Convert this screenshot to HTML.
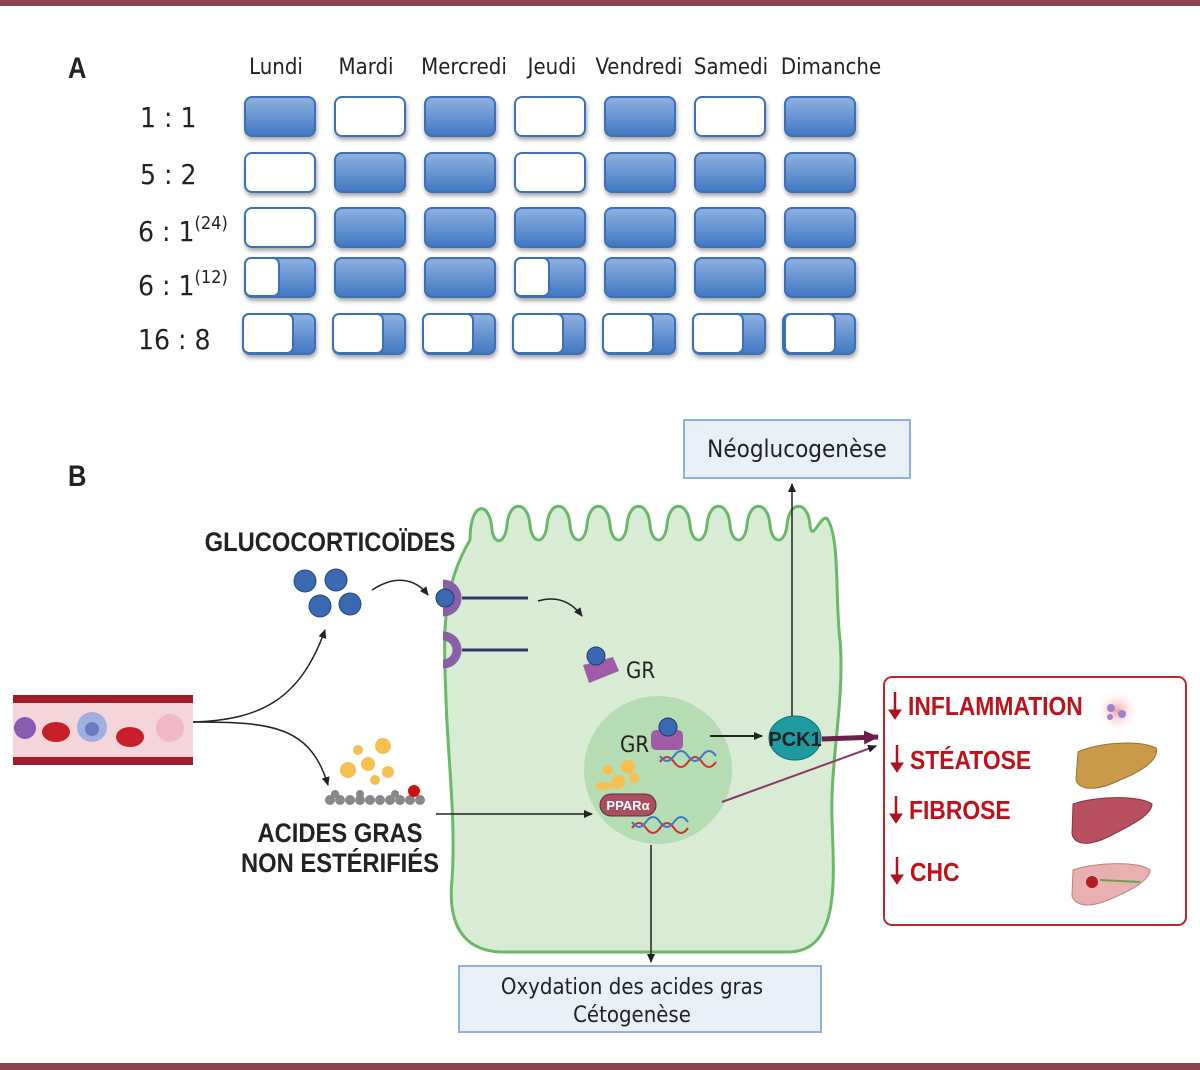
<!DOCTYPE html>
<html><head><meta charset="utf-8"><style>
html,body{margin:0;padding:0;background:#fff}
svg{display:block;font-family:"Liberation Sans",sans-serif}
.n{font-family:"DejaVu Sans Condensed","DejaVu Sans",sans-serif;fill:#222}
.b{font-family:"Liberation Sans",sans-serif;font-weight:bold;fill:#222}
.r{font-family:"Liberation Sans",sans-serif;font-weight:bold;fill:#c0101a}
</style></head><body>
<svg width="1200" height="1070" viewBox="0 0 1200 1070" xmlns="http://www.w3.org/2000/svg">
<defs>
<linearGradient id="bl" x1="0" y1="0" x2="0" y2="1"><stop offset="0" stop-color="#8fb1df"/><stop offset="1" stop-color="#3f77c2"/></linearGradient>
<filter id="sh" x="-20%" y="-20%" width="140%" height="160%"><feDropShadow dx="1" dy="3" stdDeviation="2" flood-color="#000" flood-opacity="0.35"/></filter>
<marker id="ar" markerWidth="10" markerHeight="10" refX="8" refY="5" orient="auto" markerUnits="userSpaceOnUse"><path d="M0,1 L9,5 L0,9 Z" fill="#222"/></marker>
<marker id="arp" markerWidth="16" markerHeight="16" refX="14" refY="8" orient="auto" markerUnits="userSpaceOnUse"><path d="M0,1 L15,8 L0,15 Z" fill="#6a1f4a"/></marker>
<radialGradient id="glow"><stop offset="0" stop-color="#f5a0a0"/><stop offset="1" stop-color="#fff" stop-opacity="0"/></radialGradient>
</defs>
<rect x="0" y="0" width="1200" height="6" fill="#8a4650"/>
<rect x="0" y="1063" width="1200" height="7" fill="#8a4650"/>

<text x="68" y="78" class="b" font-size="30" transform="translate(68 0) scale(0.85 1) translate(-68 0)">A</text>
<text class="n" font-size="22" x="276" y="74" text-anchor="middle">Lundi</text>
<text class="n" font-size="22" x="366" y="74" text-anchor="middle">Mardi</text>
<text class="n" font-size="22" x="464" y="74" text-anchor="middle">Mercredi</text>
<text class="n" font-size="22" x="552" y="74" text-anchor="middle">Jeudi</text>
<text class="n" font-size="22" x="639" y="74" text-anchor="middle">Vendredi</text>
<text class="n" font-size="22" x="731" y="74" text-anchor="middle">Samedi</text>
<text class="n" font-size="22" x="831" y="74" text-anchor="middle">Dimanche</text>
<text class="n" font-size="28" x="140" y="127">1 : 1</text>
<text class="n" font-size="28" x="140" y="184">5 : 2</text>
<text class="n" font-size="28" x="138" y="241">6 : 1<tspan font-size="18" dy="-12">(24)</tspan></text>
<text class="n" font-size="28" x="138" y="295">6 : 1<tspan font-size="18" dy="-12">(12)</tspan></text>
<text class="n" font-size="28" x="138" y="349">16 : 8</text>
<g filter="url(#sh)" stroke="#3d70b8" stroke-width="2">
<rect x="245" y="97" width="70" height="39" rx="7" fill="url(#bl)"/>
<rect x="335" y="97" width="70" height="39" rx="7" fill="#fff"/>
<rect x="425" y="97" width="70" height="39" rx="7" fill="url(#bl)"/>
<rect x="515" y="97" width="70" height="39" rx="7" fill="#fff"/>
<rect x="605" y="97" width="70" height="39" rx="7" fill="url(#bl)"/>
<rect x="695" y="97" width="70" height="39" rx="7" fill="#fff"/>
<rect x="785" y="97" width="70" height="39" rx="7" fill="url(#bl)"/>
<rect x="245" y="153" width="70" height="39" rx="7" fill="#fff"/>
<rect x="335" y="153" width="70" height="39" rx="7" fill="url(#bl)"/>
<rect x="425" y="153" width="70" height="39" rx="7" fill="url(#bl)"/>
<rect x="515" y="153" width="70" height="39" rx="7" fill="#fff"/>
<rect x="605" y="153" width="70" height="39" rx="7" fill="url(#bl)"/>
<rect x="695" y="153" width="70" height="39" rx="7" fill="url(#bl)"/>
<rect x="785" y="153" width="70" height="39" rx="7" fill="url(#bl)"/>
<rect x="245" y="208" width="70" height="39" rx="7" fill="#fff"/>
<rect x="335" y="208" width="70" height="39" rx="7" fill="url(#bl)"/>
<rect x="425" y="208" width="70" height="39" rx="7" fill="url(#bl)"/>
<rect x="515" y="208" width="70" height="39" rx="7" fill="url(#bl)"/>
<rect x="605" y="208" width="70" height="39" rx="7" fill="url(#bl)"/>
<rect x="695" y="208" width="70" height="39" rx="7" fill="url(#bl)"/>
<rect x="785" y="208" width="70" height="39" rx="7" fill="url(#bl)"/>
<rect x="245" y="258" width="70" height="39" rx="7" fill="url(#bl)"/>
<rect x="335" y="258" width="70" height="39" rx="7" fill="url(#bl)"/>
<rect x="425" y="258" width="70" height="39" rx="7" fill="url(#bl)"/>
<rect x="515" y="258" width="70" height="39" rx="7" fill="url(#bl)"/>
<rect x="605" y="258" width="70" height="39" rx="7" fill="url(#bl)"/>
<rect x="695" y="258" width="70" height="39" rx="7" fill="url(#bl)"/>
<rect x="785" y="258" width="70" height="39" rx="7" fill="url(#bl)"/>
<rect x="243" y="314" width="72" height="40" rx="7" fill="url(#bl)"/>
<rect x="333" y="314" width="72" height="40" rx="7" fill="url(#bl)"/>
<rect x="423" y="314" width="72" height="40" rx="7" fill="url(#bl)"/>
<rect x="513" y="314" width="72" height="40" rx="7" fill="url(#bl)"/>
<rect x="603" y="314" width="72" height="40" rx="7" fill="url(#bl)"/>
<rect x="693" y="314" width="72" height="40" rx="7" fill="url(#bl)"/>
<rect x="783" y="314" width="72" height="40" rx="7" fill="url(#bl)"/>
</g>
<g stroke="#3d70b8" stroke-width="2" fill="#fff">
<rect x="245" y="258" width="34" height="38" rx="6"/>
<rect x="515" y="258" width="34" height="38" rx="6"/>
<rect x="243" y="314" width="50" height="39" rx="6"/>
<rect x="333" y="314" width="50" height="39" rx="6"/>
<rect x="423" y="314" width="50" height="39" rx="6"/>
<rect x="513" y="314" width="50" height="39" rx="6"/>
<rect x="603" y="314" width="50" height="39" rx="6"/>
<rect x="693" y="314" width="50" height="39" rx="6"/>
<rect x="785" y="314" width="50" height="39" rx="6"/>
</g>

<text x="68" y="486" class="b" font-size="30" transform="translate(68 0) scale(0.85 1) translate(-68 0)">B</text>

<path d="M470,540 C470,500 490,500 492,530 C494,545 505,545 507,525 C509,500 528,500 530,525 C532,545 545,545 547,525 C549,500 568,500 570,525 C572,545 585,545 587,525 C589,500 608,500 610,525 C612,545 625,545 627,525 C629,500 648,500 650,525 C652,545 665,545 667,525 C669,500 688,500 690,525 C692,545 705,545 707,525 C709,500 728,500 730,525 C732,545 745,545 747,525 C749,500 768,500 770,525 C772,545 785,545 787,525 C789,500 808,500 810,525 C812,545 822,510 828,520 C840,540 835,600 840,640 C845,700 830,760 832,820 C834,880 840,950 790,952 L500,952 C460,950 448,920 452,880 C456,820 448,760 446,700 C444,640 440,590 470,540 Z" fill="#d8ecd4" stroke="#6ab86a" stroke-width="3"/>
<circle cx="658" cy="770" r="74" fill="#b5dcb2"/>

<rect x="684" y="420" width="226" height="58" fill="#e9f0f8" stroke="#8fb1df" stroke-width="2"/>
<text x="797" y="457" class="n" font-size="24" text-anchor="middle">Néoglucogenèse</text>
<line x1="792" y1="718" x2="792" y2="484" stroke="#222" stroke-width="1.5" marker-end="url(#ar)"/>

<rect x="459" y="966" width="362" height="66" fill="#e9f0f8" stroke="#8fb1df" stroke-width="2"/>
<text x="632" y="994" class="n" font-size="22" text-anchor="middle">Oxydation des acides gras</text>
<text x="632" y="1022" class="n" font-size="22" text-anchor="middle">Cétogenèse</text>
<line x1="651" y1="845" x2="651" y2="962" stroke="#222" stroke-width="1.5" marker-end="url(#ar)"/>

<text x="330" y="551" class="b" font-size="27" text-anchor="middle" transform="translate(330 0) scale(0.88 1) translate(-330 0)">GLUCOCORTICOÏDES</text>
<g fill="#3b68b0" stroke="#1f4c90" stroke-width="1">
<circle cx="305" cy="581" r="11"/><circle cx="336" cy="580" r="11"/>
<circle cx="320" cy="606" r="11"/><circle cx="350" cy="604" r="11"/>
</g>
<path d="M372,590 C395,575 415,578 428,595" fill="none" stroke="#222" stroke-width="1.5" marker-end="url(#ar)"/>
<path d="M443,584 A14,14 0 1,1 443,612" fill="none" stroke="#8b5fa8" stroke-width="9"/>
<circle cx="445" cy="598" r="9" fill="#3b68b0" stroke="#1f3c70"/>
<line x1="462" y1="598" x2="528" y2="598" stroke="#333a6a" stroke-width="3"/>
<path d="M443,636 A14,14 0 1,1 443,664" fill="none" stroke="#8b5fa8" stroke-width="9"/>
<line x1="462" y1="650" x2="528" y2="650" stroke="#333a6a" stroke-width="3"/>
<path d="M538,601 C555,596 570,600 582,616" fill="none" stroke="#222" stroke-width="1.5" marker-end="url(#ar)"/>
<path d="M583,665 l30,-8 l6,14 l-30,12 z" fill="#a05ca8"/>
<circle cx="596" cy="656" r="9" fill="#3b68b0" stroke="#1f3c70"/>
<text x="626" y="678" class="n" font-size="22">GR</text>

<text x="620" y="752" class="n" font-size="22">GR</text>
<rect x="651" y="730" width="32" height="20" rx="5" fill="#a05ca8"/>
<circle cx="668" cy="727" r="9" fill="#3b68b0" stroke="#1f3c70"/>
<path d="M660,762 q7,-10 14,0 t14,0 t14,0 t14,0" fill="none" stroke="#d03030" stroke-width="2"/>
<path d="M660,756 q7,10 14,0 t14,0 t14,0 t14,0" fill="none" stroke="#3a7ac8" stroke-width="2"/>
<g fill="#f5c050"><circle cx="608" cy="770" r="5"/><circle cx="628" cy="767" r="7"/><circle cx="618" cy="782" r="7"/><circle cx="634" cy="778" r="5"/><ellipse cx="604" cy="786" rx="9" ry="4"/></g>
<rect x="600" y="794" width="56" height="22" rx="11" fill="#a85060" stroke="#6a2a3a"/>
<text x="628" y="810" font-size="13" font-weight="bold" fill="#fff" text-anchor="middle">PPARα</text>
<path d="M632,828 q7,-10 14,0 t14,0 t14,0 t14,0" fill="none" stroke="#d03030" stroke-width="2"/>
<path d="M632,822 q7,10 14,0 t14,0 t14,0 t14,0" fill="none" stroke="#3a7ac8" stroke-width="2"/>

<line x1="710" y1="736" x2="762" y2="736" stroke="#222" stroke-width="2" marker-end="url(#ar)"/>
<ellipse cx="795" cy="738" rx="26" ry="22" fill="#1f9aa0" stroke="#157378"/>
<text x="795" y="746" class="b" font-size="20" text-anchor="middle" fill="#111">PCK1</text>
<line x1="822" y1="739" x2="878" y2="737" stroke="#6a1f4a" stroke-width="5" marker-end="url(#arp)"/>
<line x1="722" y1="802" x2="876" y2="746" stroke="#8a3a6a" stroke-width="2" marker-end="url(#ar)"/>

<rect x="13" y="695" width="180" height="70" fill="#f4d6da"/>
<rect x="13" y="695" width="180" height="8" fill="#a01c2a"/>
<rect x="13" y="757" width="180" height="8" fill="#a01c2a"/>
<circle cx="25" cy="728" r="11" fill="#8a5ab0"/>
<ellipse cx="56" cy="732" rx="14" ry="10" fill="#c8202a"/>
<circle cx="92" cy="727" r="15" fill="#9fb0e0"/><circle cx="92" cy="729" r="7" fill="#6a7ac0"/>
<ellipse cx="130" cy="737" rx="14" ry="10" fill="#c8202a"/>
<circle cx="170" cy="728" r="14" fill="#f2b8c8"/>
<path d="M193,722 C260,720 300,700 325,630" fill="none" stroke="#222" stroke-width="1.5" marker-end="url(#ar)"/>
<path d="M193,722 C270,722 310,725 328,785" fill="none" stroke="#222" stroke-width="1.5" marker-end="url(#ar)"/>

<g fill="#f5c050"><circle cx="383" cy="746" r="8"/><circle cx="368" cy="764" r="7"/><circle cx="358" cy="750" r="5"/><circle cx="388" cy="772" r="6"/><circle cx="348" cy="770" r="8"/><circle cx="375" cy="780" r="5"/></g>
<g fill="#888"><circle cx="330" cy="800" r="5"/><circle cx="340" cy="800" r="5"/><circle cx="350" cy="800" r="5"/><circle cx="360" cy="800" r="5"/><circle cx="370" cy="800" r="5"/><circle cx="380" cy="800" r="5"/><circle cx="390" cy="800" r="5"/><circle cx="400" cy="800" r="5"/><circle cx="410" cy="800" r="5"/><circle cx="420" cy="800" r="5"/><circle cx="335" cy="794" r="4"/><circle cx="360" cy="794" r="4"/><circle cx="395" cy="794" r="4"/></g>
<circle cx="414" cy="791" r="6" fill="#d01010"/>
<text x="340" y="842" class="b" font-size="27" text-anchor="middle" transform="translate(340 0) scale(0.88 1) translate(-340 0)">ACIDES GRAS</text>
<text x="340" y="872" class="b" font-size="27" text-anchor="middle" transform="translate(340 0) scale(0.88 1) translate(-340 0)">NON ESTÉRIFIÉS</text>
<line x1="436" y1="814" x2="592" y2="814" stroke="#222" stroke-width="1.5" marker-end="url(#ar)"/>

<rect x="884" y="677" width="302" height="248" rx="8" fill="#fff" stroke="#c0272d" stroke-width="2"/>
<g fill="#b01020" stroke="#b01020" stroke-width="2.5">
<line x1="895" y1="692" x2="895" y2="714"/><path d="M889,710 L895,719 L901,710 Z" stroke-width="1"/>
<line x1="897" y1="745" x2="897" y2="767"/><path d="M891,763 L897,772 L903,763 Z" stroke-width="1"/>
<line x1="896" y1="796" x2="896" y2="818"/><path d="M890,814 L896,823 L902,814 Z" stroke-width="1"/>
<line x1="897" y1="857" x2="897" y2="879"/><path d="M891,875 L897,884 L903,875 Z" stroke-width="1"/>
</g>
<text x="908" y="715" font-size="26" class="r" transform="translate(908 0) scale(0.88 1) translate(-908 0)">INFLAMMATION</text>
<text x="910" y="769" font-size="26" class="r" transform="translate(910 0) scale(0.88 1) translate(-910 0)">STÉATOSE</text>
<text x="909" y="819" font-size="26" class="r" transform="translate(909 0) scale(0.88 1) translate(-909 0)">FIBROSE</text>
<text x="910" y="881" font-size="26" class="r" transform="translate(910 0) scale(0.88 1) translate(-910 0)">CHC</text>
<circle cx="1117" cy="711" r="22" fill="url(#glow)"/>
<circle cx="1111" cy="708" r="4" fill="#a080d0"/><circle cx="1122" cy="714" r="4" fill="#a080d0"/><circle cx="1110" cy="717" r="3" fill="#a080d0"/>
<path d="M1078,752 C1100,742 1140,740 1156,748 C1160,760 1140,772 1120,780 C1100,790 1080,792 1076,780 Z" fill="#c99a4a" stroke="#9a7030"/>
<path d="M1073,804 C1095,796 1140,795 1152,804 C1152,815 1130,826 1110,836 C1090,846 1075,846 1072,834 Z" fill="#b85060" stroke="#8a3040"/>
<path d="M1073,870 C1095,862 1140,861 1150,870 C1150,881 1128,892 1108,900 C1090,908 1075,906 1072,896 Z" fill="#e8b0b0" stroke="#c08080"/>
<circle cx="1092" cy="882" r="6" fill="#b02020"/>
<path d="M1100,880 L1140,882" stroke="#70a050" stroke-width="2"/>
</svg>
</body></html>
